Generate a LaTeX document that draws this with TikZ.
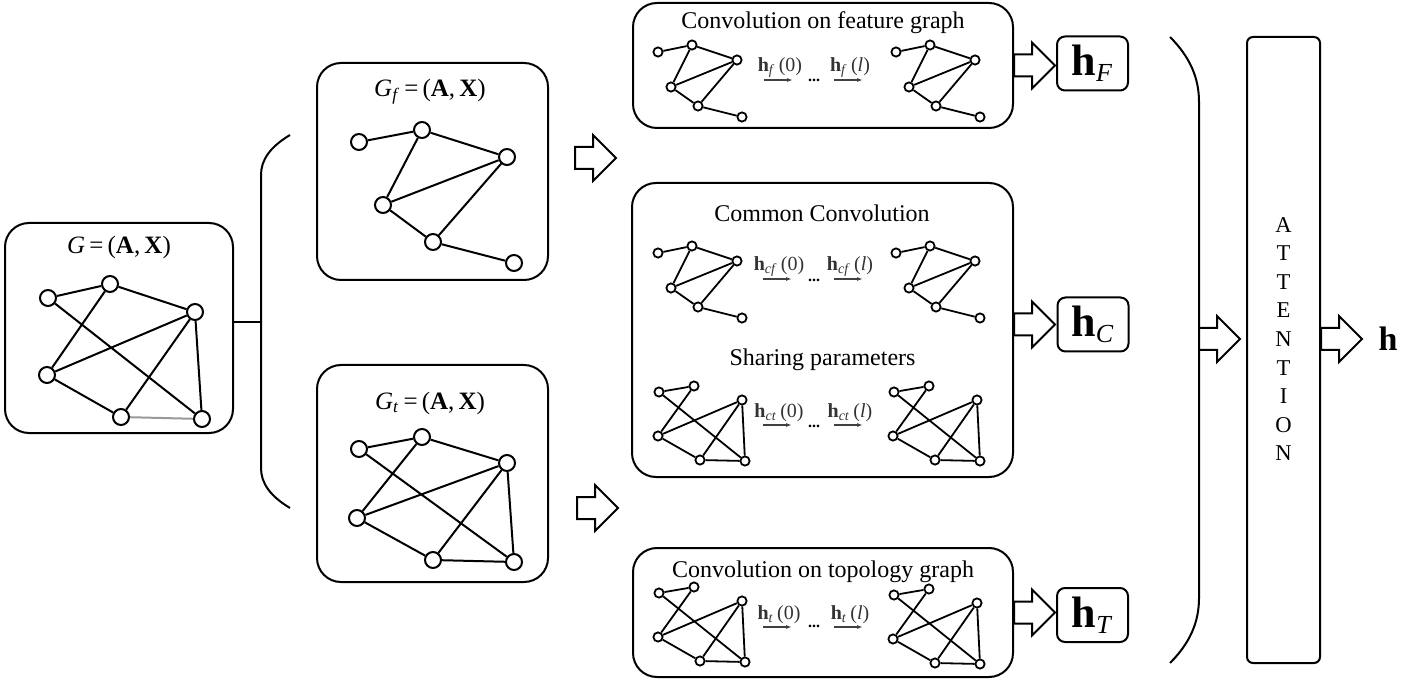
\documentclass[tikz,border=0pt]{standalone}
\usepackage{fontspec}
\setmainfont{Liberation Serif}
\usetikzlibrary{arrows.meta,calc}

% block arrow, #1 = tail point
\newcommand{\fatarrow}[1]{%
  \draw[line width=1pt,fill=white] (#1) ++(0,-11) -- ++(18,0) -- ++(0,-12)
    -- ++(23,23) -- ++(-23,23) -- ++(0,-12) -- ++(-18,0) -- cycle;}

% small feature graph, #1 = prefix, #2 = first node
\newcommand{\featgraph}[2]{%
  \begin{scope}[shift={(#2)}]
  \node[snode] (#1-1) at (0,0) {};
  \node[snode] (#1-2) at (34,-7) {};
  \node[snode] (#1-3) at (79,8) {};
  \node[snode] (#1-4) at (13,35) {};
  \node[snode] (#1-5) at (40,54) {};
  \node[snode] (#1-6) at (84,65) {};
  \draw[sedge] (#1-1) -- (#1-2) (#1-2) -- (#1-3) (#1-2) -- (#1-4) (#1-4) -- (#1-3)
    (#1-4) -- (#1-5) (#1-5) -- (#1-3) (#1-5) -- (#1-6);
  \end{scope}}

% small topology graph
\newcommand{\topograph}[2]{%
  \begin{scope}[shift={(#2)}]
  \node[snode] (#1-1) at (0,0) {};
  \node[snode] (#1-2) at (35,-6) {};
  \node[snode] (#1-3) at (83,8) {};
  \node[snode] (#1-4) at (-1,44) {};
  \node[snode] (#1-5) at (41,68) {};
  \node[snode] (#1-6) at (86,69) {};
  \draw[sedge] (#1-1) -- (#1-2) (#1-2) -- (#1-4) (#1-1) -- (#1-6) (#1-4) -- (#1-3)
    (#1-4) -- (#1-5) (#1-5) -- (#1-3) (#1-3) -- (#1-6) (#1-5) -- (#1-6);
  \end{scope}}

% layer label with its little arrow
\newcommand{\layerlabel}[3]{%
  \node[lbl] (#1) at (#2) {#3};
  \draw[lblarrow] ($(#1.center)+(-16,12)$) -- ($(#1.center)+(13,12)$);}

\begin{document}
\begin{tikzpicture}[x=0.5pt,y=-0.5pt,
  panel/.style={draw,line width=1pt,rounded corners=12pt,inner sep=0pt},
  hbox/.style={draw,line width=1pt,rounded corners=4pt,inner sep=0pt,
    minimum width=35.5pt,minimum height=27pt},
  gnode/.style={circle,draw,line width=1pt,fill=white,inner sep=0pt,minimum size=8pt},
  gedge/.style={line width=1pt},
  snode/.style={circle,draw,line width=0.9pt,fill=white,inner sep=0pt,minimum size=4.6pt},
  sedge/.style={line width=0.9pt},
  title/.style={font=\fontsize{12}{14}\selectfont,inner sep=0pt},
  gtitle/.style={font=\fontsize{12.5}{15}\selectfont,inner sep=0pt},
  lbl/.style={font=\fontsize{10}{11}\selectfont,inner sep=0pt,text=black!80},
  lblarrow/.style={line width=0.6pt,draw=black!75,-{Latex[length=3pt,width=2pt]}},
  dots/.style={font=\fontsize{8}{9}\selectfont\bfseries,inner sep=0pt}]
\useasboundingbox (0,0) rectangle (1427,683);

% input graph
\node[panel,minimum width=114pt,minimum height=105pt] (graphG) at (119,328) {};
\node[gtitle] (tG) at (119,247) {\textit{G}\,=\,(\textbf{A},\,\textbf{X})};
\node[gnode] (g1) at (48,298) {};
\node[gnode] (g2) at (110,284) {};
\node[gnode] (g3) at (195,312) {};
\node[gnode] (g4) at (47,375) {};
\node[gnode] (g5) at (121,417) {};
\node[gnode] (g6) at (202,419) {};
\draw[gedge] (g1) -- (g2) (g2) -- (g3) (g1) -- (g6) (g2) -- (g4) (g4) -- (g3)
  (g4) -- (g5) (g5) -- (g3) (g3) -- (g6);
\draw[gedge,draw=black!40] (g5) -- (g6);

% left bracket
\coordinate (brL) at (261,322);
\draw[line width=1pt] (graphG.east |- brL) -- (brL);
\draw[line width=1pt] (290,135) .. controls (270,147) and (261,160) .. (261,175)
  -- (261,468) .. controls (261,483) and (270,496) .. (290,508);

% feature graph
\node[panel,minimum width=115.5pt,minimum height=108.5pt] (graphF) at (432.5,171.5) {};
\node[gtitle] (tF) at (430,92) {\textit{G}\textsubscript{\textit{f}}\,=\,(\textbf{A},\,\textbf{X})};
\node[gnode] (a1) at (359,142) {};
\node[gnode] (a2) at (422,130) {};
\node[gnode] (a3) at (507,157) {};
\node[gnode] (a4) at (383,205) {};
\node[gnode] (a5) at (433,242) {};
\node[gnode] (a6) at (514,263) {};
\draw[gedge] (a1) -- (a2) (a2) -- (a3) (a2) -- (a4) (a4) -- (a3)
  (a4) -- (a5) (a5) -- (a3) (a5) -- (a6);

% topology graph
\node[panel,minimum width=115.5pt,minimum height=108.5pt] (graphT) at (432.5,473.5) {};
\node[gtitle] (tT) at (430,403) {\textit{G}\textsubscript{\textit{t}}\,=\,(\textbf{A},\,\textbf{X})};
\node[gnode] (b1) at (359,449) {};
\node[gnode] (b2) at (422,437) {};
\node[gnode] (b3) at (507,463) {};
\node[gnode] (b4) at (357,518) {};
\node[gnode] (b5) at (433,560) {};
\node[gnode] (b6) at (514,562) {};
\draw[gedge] (b1) -- (b2) (b2) -- (b3) (b1) -- (b6) (b2) -- (b4) (b4) -- (b3)
  (b4) -- (b5) (b5) -- (b3) (b3) -- (b6) (b5) -- (b6);

\fatarrow{575,158}
\fatarrow{577,508}

% convolution panels
\node[panel,minimum width=190pt,minimum height=62.5pt] (convF) at (823,65.5) {};
\node[title] (tcF) at (823,23) {Convolution on feature graph};
\featgraph{fL}{658,52}
\featgraph{fR}{896,52}
\layerlabel{hf0}{780,68}{\textbf{h}\textsubscript{\textit{f}}\,(0)}
\layerlabel{hfl}{850,68}{\textbf{h}\textsubscript{\textit{f}}\,(\textit{l})}
\node[dots] (dF) at (814,80) {...};

\node[panel,minimum width=190.5pt,minimum height=147pt] (convC) at (822.5,330) {};
\node[title] (tcC) at (822,213) {Common Convolution};
\node[title] (tsh) at (822.5,360) {Sharing parameters};
\featgraph{cL}{658,253}
\featgraph{cR}{896,253}
\layerlabel{hcf0}{779,267}{\textbf{h}\textsubscript{\textit{cf}}\,(0)}
\layerlabel{hcfl}{850,267}{\textbf{h}\textsubscript{\textit{cf}}\,(\textit{l})}
\node[dots] (dC1) at (814,280) {...};
\topograph{tL}{659,392}
\topograph{tR}{894,392}
\layerlabel{hct0}{779,413}{\textbf{h}\textsubscript{\textit{ct}}\,(0)}
\layerlabel{hctl}{850,413}{\textbf{h}\textsubscript{\textit{ct}}\,(\textit{l})}
\node[dots] (dC2) at (814,426) {...};

\node[panel,minimum width=190pt,minimum height=64.5pt] (convT) at (823,612.5) {};
\node[title] (tcT) at (823,572) {Convolution on topology graph};
\topograph{pL}{659,593}
\topograph{pR}{894,595}
\layerlabel{ht0}{779,615}{\textbf{h}\textsubscript{\textit{t}}\,(0)}
\layerlabel{htl}{850,615}{\textbf{h}\textsubscript{\textit{t}}\,(\textit{l})}
\node[dots] (dT) at (814,626) {...};

% outputs
\node[hbox,font=\fontsize{22}{24}\selectfont] (hF) at (1092.5,63.5)
  {\textbf{h}\textsubscript{\fontsize{13}{14}\selectfont\textit{F}}};
\node[hbox,font=\fontsize{22}{24}\selectfont] (hC) at (1093,324.5)
  {\textbf{h}\textsubscript{\fontsize{13}{14}\selectfont\textit{C}}};
\node[hbox,font=\fontsize{22}{24}\selectfont] (hT) at (1092.5,615)
  {\textbf{h}\textsubscript{\fontsize{13}{14}\selectfont\textit{T}}};
\fatarrow{convF.east}
\fatarrow{convC.east |- hC.west}
\fatarrow{convT.east}

% right bracket
\coordinate (brR) at (1199,339);
\draw[line width=1pt] (1170,37) .. controls (1190,57) and (1199,78) .. (1199,102)
  -- (1199,598) .. controls (1199,622) and (1190,643) .. (1170,663);

% attention
\node[draw,line width=1pt,rounded corners=3pt,minimum width=36.5pt,minimum height=313pt]
  (att) at (1283.5,350) {};
\node[align=center,font=\fontsize{11.3}{14.3}\selectfont,inner sep=0pt] (attxt)
  at (1283.5,339) {A\\T\\T\\E\\N\\T\\I\\O\\N};
\fatarrow{brR}
\fatarrow{att.east |- brR}
\node[font=\fontsize{17}{19}\selectfont\bfseries] (hout) at (1388,339) {h};
\end{tikzpicture}
\end{document}
